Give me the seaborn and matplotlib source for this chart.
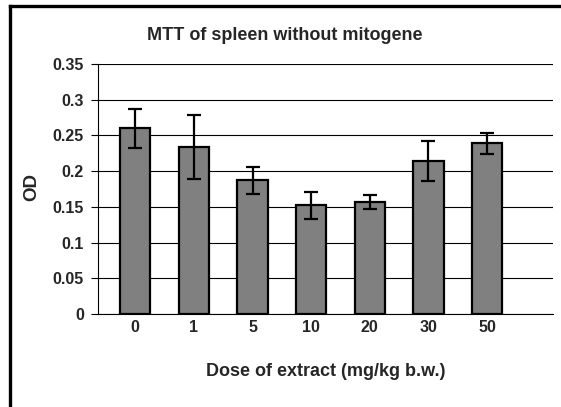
import matplotlib
matplotlib.use("Agg")
import matplotlib.pyplot as plt
import seaborn as sns
import pandas as pd
from matplotlib.lines import Line2D

categories = ["0", "1", "5", "10", "20", "30", "50"]
means = [0.260, 0.234, 0.187, 0.152, 0.157, 0.214, 0.239]
errors = [0.027, 0.045, 0.0195, 0.019, 0.010, 0.028, 0.0145]
yticks = [0, 0.05, 0.1, 0.15, 0.2, 0.25, 0.3, 0.35]
ytick_labels = ["0", "0.05", "0.1", "0.15", "0.2", "0.25", "0.3", "0.35"]

sns.set_style("white")
plt.rcParams["font.family"] = ["Liberation Sans", "DejaVu Sans"]
plt.rcParams["font.weight"] = "bold"

W, H = 561, 407
fig = plt.figure(figsize=(W / 100, H / 100), dpi=100)
ax = fig.add_axes([98.3 / W, 1 - 314 / H, (552.7 - 98.3) / W, (314 - 64) / H])

df = pd.DataFrame({"dose": categories, "od": means})
ax.yaxis.grid(True, color="black", linewidth=0.8)
ax.set_axisbelow(True)
sns.barplot(data=df, x="dose", y="od", order=categories, color="#808080",
            saturation=1, edgecolor="black", linewidth=1.6, width=0.52, ax=ax, zorder=2)
ax.errorbar(range(len(categories)), means, yerr=errors, fmt="none",
            ecolor="black", elinewidth=1.6, capsize=5, capthick=1.6, zorder=3)

ax.set_ylim(0, 0.35)
ax.set_xlim(-0.63, 7.12)
ax.set_yticks(yticks)
ax.set_yticklabels(ytick_labels, fontsize=11.5, fontweight="bold")
ax.set_xticks(range(len(categories)))
ax.set_xticklabels(categories, fontsize=11.5, fontweight="bold")
ax.set_xticks([-0.63, 7.12], minor=True)
ax.tick_params(axis="x", which="major", length=0, pad=4)
ax.tick_params(axis="x", which="minor", length=4.5, width=0.8, direction="out", color="black")
ax.tick_params(axis="y", which="major", length=4.8, width=0.8, direction="out", color="black", pad=5.5, left=True)
ax.set_xlabel("")
ax.set_ylabel("")
for s in ["top", "right"]:
    ax.spines[s].set_visible(False)
for s in ["left", "bottom"]:
    ax.spines[s].set_color("black")
    ax.spines[s].set_linewidth(0.8)

fig.text(285 / W, 1 - 35 / H, "MTT of spleen without mitogene", ha="center", va="center",
         fontsize=13, fontweight="bold")
fig.text(326 / W, 1 - 372 / H, "Dose of extract (mg/kg b.w.)", ha="center", va="center",
         fontsize=13, fontweight="bold")
fig.text(32 / W, 1 - 187 / H, "OD", ha="center", va="center", rotation=90,
         fontsize=13.5, fontweight="bold")

# outer frame (left and top edges visible)
fig.add_artist(Line2D([10 / W, 10 / W], [0, 1 - 6 / H], transform=fig.transFigure,
                      color="black", linewidth=2.4, solid_capstyle="projecting"))
fig.add_artist(Line2D([10 / W, 1], [1 - 6 / H, 1 - 6 / H], transform=fig.transFigure,
                      color="black", linewidth=2.4, solid_capstyle="projecting"))

fig.savefig("out.png", dpi=100)
